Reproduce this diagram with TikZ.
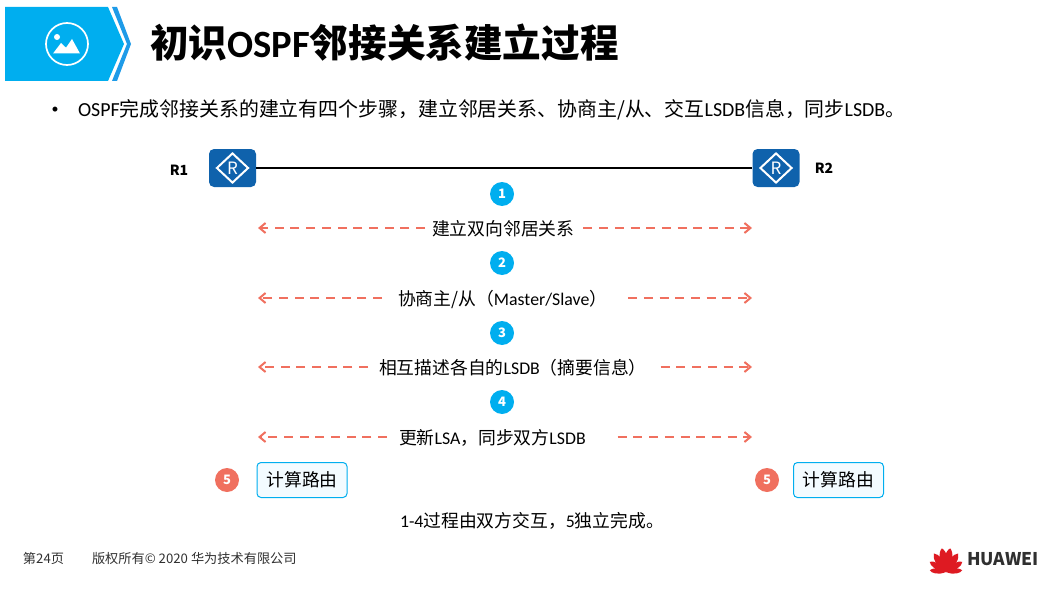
\documentclass[tikz,border=0pt]{standalone}
\usepackage{fontspec}
\setmainfont{Noto Sans CJK SC}
\newfontfamily\latfont{Carlito}
\newcommand{\ltn}[1]{{\latfont #1}}
\usetikzlibrary{positioning,arrows.meta,shapes.geometric}
\definecolor{hwcyan}{HTML}{00AEEF}
\definecolor{hwblue}{HTML}{1E9BE8}
\definecolor{routerblue}{HTML}{0F62AC}
\definecolor{msgred}{HTML}{F0705F}
\definecolor{calcbg}{HTML}{F3FBFF}
\definecolor{hwred}{HTML}{DE1A22}
\definecolor{footgray}{HTML}{303030}

\begin{document}
\begin{tikzpicture}[
      x=1pt, y=-1pt,
      font=\fontsize{17.8}{20}\selectfont,
      router/.style={
        fill=routerblue, rounded corners=5pt,
        minimum width=47pt, minimum height=38pt, inner sep=0pt
      },
      rmark/.style={draw=white, line width=2pt, fill=none, diamond, aspect=1.05,
        minimum width=32pt, minimum height=30pt, inner sep=0pt,
        text=white, font=\fontsize{17}{17}\selectfont},
      rname/.style={font=\fontsize{14}{16}\selectfont\bfseries},
      stepnum/.style={circle, fill=hwcyan, text=white, minimum size=24pt, inner sep=0pt,
        font=\fontsize{13}{13}\selectfont\bfseries},
      calcnum/.style={stepnum, fill=msgred},
      calcbox/.style={draw=hwcyan, line width=1pt, fill=calcbg, rounded corners=4pt,
        minimum width=90pt, minimum height=35pt, inner sep=0pt},
      msgarr/.style={-{Straight Barb[length=6pt,width=10pt]}, msgred, line width=2pt,
        dash pattern=on 9pt off 6.7pt},
      lbl/.style={inner sep=0pt, outer sep=0pt}
    ]
      \useasboundingbox (0,0) rectangle (1057,607);

      % title banner
      \fill[hwcyan] (5,7) -- (108,7) -- (124,44) -- (108,81) -- (5,81) -- cycle;
      \fill[hwblue] (112,7) -- (117,7) -- (131,44) -- (117,81) -- (112,81) -- (127,44) -- cycle;
      \draw[white, line width=1.7pt] (67,44) circle (21);
      \fill[white] (53,53.5) -- (61,43) -- (66,47.7) -- (72,39) -- (80,53.5) -- cycle;
      \fill[white] (57,37) circle (3);
      \node[lbl, anchor=west, font=\fontsize{38.6}{41}\selectfont\bfseries] (title) at (150,43)
        {初识\ltn{OSPF}邻接关系建立过程};

      \node[lbl, font=\fontsize{14}{14}\selectfont] (dot) at (55,110) {\ltn{•}};
      \node[lbl, anchor=west, font=\fontsize{19.9}{22}\selectfont] (intro) at (78,110)
        {\ltn{OSPF}完成邻接关系的建立有四个步骤，建立邻居关系、协商主/从、交互\ltn{LSDB}信息，同步\ltn{LSDB}。};

      % routers and their link
      \node[router] (r1) at (232.5,168) {};
      \node[router] (r2) at (776,168) {};
      \node[rmark] (r1m) at (r1) {R};
      \node[rmark] (r2m) at (r2) {R};
      \draw[black, line width=2.4pt] (r1) -- (r2);
      \node[rname] (r1n) at (179,170) {R1};
      \node[rname] (r2n) at (824,168) {R2};

      % numbered exchanges between the routers
      \foreach \i/\ynum/\yrow/\xt/\gl/\gr/\txt in {
          1/194/228/432/7/9/{建立双向邻居关系},
          2/263/298/398/16/21/{协商主/从（\ltn{Master/Slave}）},
          3/333/367/379/11/14/{相互描述各自的\ltn{LSDB}（摘要信息）},
          4/402/437/399/12/32/{更新\ltn{LSA}，同步双方\ltn{LSDB}}} {
        \node[stepnum] (n\i) at (502,\ynum) {\i};
        \coordinate (ml\i) at (258,\yrow);
        \coordinate (mr\i) at (752,\yrow);
        \node[lbl, anchor=west, yshift=-1pt] (m\i) at (\xt,\yrow) {\txt};
        \draw[msgarr] ([xshift=-\gl pt]ml\i -| m\i.west) -- (ml\i);
        \draw[msgarr] ([xshift=\gr pt]mr\i -| m\i.east) -- (mr\i);
      }

      % independent route calculation
      \node[calcnum] (c1) at (227,480) {5};
      \node[calcnum] (c2) at (767,480) {5};
      \node[calcbox] (b1) at (302,480) {计算路由};
      \node[calcbox] (b2) at (838.5,480) {计算路由};
      \node[lbl, anchor=west] (note) at (400,521) {\ltn{1-4}过程由双方交互，\ltn{5}独立完成。};

      % footer
      \node[lbl, anchor=west, text=footgray, font=\fontsize{13.2}{15}\selectfont] (page) at (23,558) {第24页};
      \node[lbl, anchor=west, text=footgray, font=\fontsize{13.2}{15}\selectfont] (copy) at (92,558)
        {版权所有© 2020 华为技术有限公司};

      % logo
      \foreach \a/\s in {-84/.68,-58/.8,-33/.92,-10/1,10/1,33/.92,58/.8,84/.68} {
        \fill[hwred, rotate around={\a:(946,572)}]
          (946,572) .. controls ({946-6*\s},{572-11*\s}) and ({946-4*\s},{572-21*\s}) .. ({946},{572-24*\s})
          .. controls ({946+4*\s},{572-21*\s}) and ({946+6*\s},{572-11*\s}) .. (946,572) -- cycle;
      }
      \node[lbl, anchor=west, text=footgray, font=\fontsize{17.5}{18}\selectfont\bfseries] (brand) at (967,559) {HUAWEI};
    \end{tikzpicture}
\end{document}
